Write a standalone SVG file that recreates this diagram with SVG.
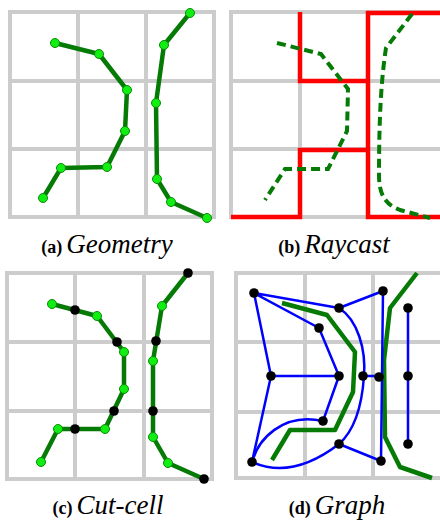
<svg xmlns="http://www.w3.org/2000/svg" width="440" height="521" viewBox="0 0 440 521">
<defs>
<style>
.grid{fill:none;stroke:#cccccc;stroke-width:4}
.geo{fill:none;stroke:#057a05;stroke-width:4.5;stroke-linejoin:round;stroke-linecap:butt}
.dash{fill:none;stroke:#057a05;stroke-width:4;stroke-dasharray:9,5}
.ray{fill:none;stroke:#ff0000;stroke-width:4.5;stroke-linejoin:miter}
.gn{fill:#11ee11;stroke:#0a8a0a;stroke-width:1}
.bn{fill:#000000}
.edge{fill:none;stroke:#0000ff;stroke-width:2.5}
.lb{font-family:"Liberation Serif","Times New Roman",serif;font-weight:bold;font-size:18px;fill:#000}
.li{font-family:"Liberation Serif","Times New Roman",serif;font-style:italic;font-size:27px;fill:#000}
</style>
</defs>
<rect width="440" height="521" fill="#ffffff"/>

<!-- Panel a -->
<g id="panel-a">
<path class="grid" d="M10,12H214V217H10Z M78,12V217 M146,12V217 M10,81H214 M10,149H214"/>
<polyline class="geo" points="55,43 99,54 127,90 125,131 107,167 61,168 43,198"/>
<polyline class="geo" points="190,13 164,45 156,103 157,179 171,202 207,218"/>
<g>
<circle class="gn" cx="55" cy="43" r="4.5"/><circle class="gn" cx="99" cy="54" r="4.5"/><circle class="gn" cx="127" cy="90" r="4.5"/><circle class="gn" cx="125" cy="131" r="4.5"/><circle class="gn" cx="107" cy="167" r="4.5"/><circle class="gn" cx="61" cy="168" r="4.5"/><circle class="gn" cx="43" cy="198" r="4.5"/>
<circle class="gn" cx="190" cy="13" r="4.5"/><circle class="gn" cx="164" cy="45" r="4.5"/><circle class="gn" cx="156" cy="103" r="4.5"/><circle class="gn" cx="157" cy="179" r="4.5"/><circle class="gn" cx="171" cy="202" r="4.5"/><circle class="gn" cx="207" cy="218" r="4.5"/>
</g>
<text x="107" y="253" text-anchor="middle"><tspan class="lb">(a)</tspan><tspan class="li" dx="4">Geometry</tspan></text>
</g>

<!-- Panel b -->
<g id="panel-b">
<path class="grid" d="M440,12H231V217H440 M300,12V217 M368,12V217 M231,81H440 M231,149H440"/>
<path class="ray" d="M300,12V81H368 M231,217H300V150H368 M440,13H368V217H440"/>
<polyline class="dash" points="277,43 321,54 348,89 347,131 328,169 285,169 265,200"/>
<path class="dash" d="M412,14L386,48C381,80 379,120 379,175C379,193 384,204 400,210L430,218"/>
<text x="334" y="253" text-anchor="middle"><tspan class="lb">(b)</tspan><tspan class="li" dx="4">Raycast</tspan></text>
</g>

<!-- Panel c -->
<g id="panel-c">
<path class="grid" d="M7,273H212V479H7Z M75,273V479 M144,273V479 M7,342H212 M7,411H212"/>
<polyline class="geo" points="52,304 97,316 124,352 124,389 105,429 58,429 41,462"/>
<polyline class="geo" points="188,273 162,306 153,361 153,437 168,463 204,479"/>
<g>
<circle class="gn" cx="52" cy="304" r="4.5"/><circle class="gn" cx="97" cy="316" r="4.5"/><circle class="gn" cx="124" cy="352" r="4.5"/><circle class="gn" cx="124" cy="389" r="4.5"/><circle class="gn" cx="105" cy="429" r="4.5"/><circle class="gn" cx="58" cy="429" r="4.5"/><circle class="gn" cx="41" cy="462" r="4.5"/>
<circle class="gn" cx="162" cy="306" r="4.5"/><circle class="gn" cx="153" cy="361" r="4.5"/><circle class="gn" cx="153" cy="437" r="4.5"/><circle class="gn" cx="168" cy="463" r="4.5"/>
<circle class="bn" cx="75" cy="310" r="4.8"/><circle class="bn" cx="117" cy="342" r="4.8"/><circle class="bn" cx="114" cy="411" r="4.8"/><circle class="bn" cx="75" cy="429" r="4.8"/>
<circle class="bn" cx="188" cy="273" r="4.8"/><circle class="bn" cx="156" cy="341" r="4.8"/><circle class="bn" cx="153" cy="411" r="4.8"/><circle class="bn" cx="204" cy="479" r="4.8"/>
</g>
<text x="108" y="514" text-anchor="middle"><tspan class="lb">(c)</tspan><tspan class="li" dx="4">Cut-cell</tspan></text>
</g>

<!-- Panel d -->
<g id="panel-d">
<path class="grid" d="M440,273H236V478H440 M305,273V478 M373,273V478 M236,342H440 M236,412H440"/>
<polyline class="geo" points="282,303 327,315 355,352 353,392 335,430 290,430 272,460"/>
<polyline class="geo" points="417,273 390,308 384,360 385,437 400,467 432,478"/>
</g>

<g id="connectors">
<path class="edge" d="M254,293L339,308 M254,293L319,328 M254,293L271,376 M339,308L383,291 M383,291L381,461 M319,328L339,376 M271,376H339 M339,376L323,421 M271,376L252,462 M363,376H379 M339,444L381,461 M408,307V444"/>
<path class="edge" d="M339,308C358,320 366,350 364,376C362,405 355,430 339,444"/>
<path class="edge" d="M252,462Q292,480 339,444"/>
<path class="edge" d="M252,462C258,440 282,412 323,421"/>
</g>

<g id="graph-nodes">
<circle class="bn" cx="254" cy="293" r="4.8"/><circle class="bn" cx="383" cy="291" r="4.8"/><circle class="bn" cx="339" cy="308" r="4.8"/><circle class="bn" cx="319" cy="328" r="4.8"/><circle class="bn" cx="408" cy="308" r="4.8"/>
<circle class="bn" cx="271" cy="376" r="4.8"/><circle class="bn" cx="339" cy="376" r="4.8"/><circle class="bn" cx="363" cy="376" r="4.8"/><circle class="bn" cx="379" cy="377" r="4.8"/><circle class="bn" cx="408" cy="376" r="4.8"/>
<circle class="bn" cx="323" cy="421" r="4.8"/><circle class="bn" cx="339" cy="444" r="4.8"/><circle class="bn" cx="381" cy="461" r="4.8"/><circle class="bn" cx="408" cy="444" r="4.8"/><circle class="bn" cx="252" cy="462" r="4.8"/>
</g>
<text x="337" y="514" text-anchor="middle"><tspan class="lb">(d)</tspan><tspan class="li" dx="4">Graph</tspan></text>
</svg>
